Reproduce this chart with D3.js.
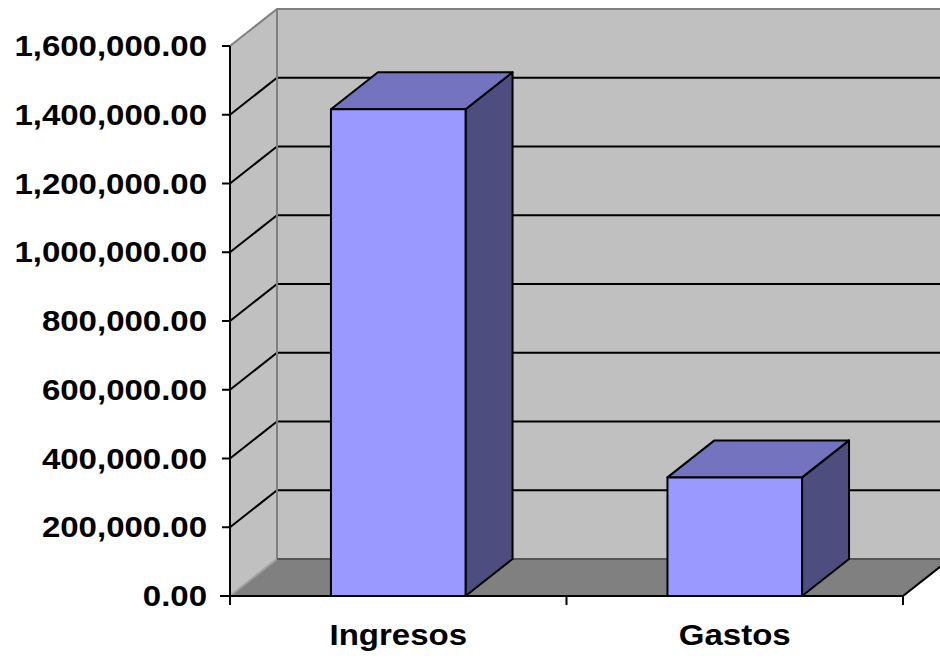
<!DOCTYPE html>
<html>
<head>
<meta charset="utf-8">
<script src="https://cdn.jsdelivr.net/npm/d3@7/dist/d3.min.js"></script>
<style>
  html, body { margin: 0; padding: 0; background: #ffffff; }
  svg { display: block; }
  text { font-family: "Liberation Sans", Arial, sans-serif; font-weight: bold; fill: #000; }
</style>
</head>
<body>
<svg id="chart" width="940" height="660"></svg>
<script>
// Data
const categories = ["Ingresos", "Gastos"];
const values = [1416000, 345000];
const yTicks = [0, 200000, 400000, 600000, 800000, 1000000, 1200000, 1400000, 1600000];

const W = 940, H = 660;
const plot = { left: 230, right: 903, top: 46, bottom: 596 };
const depth = { dx: 47, dy: -37 };   // 3D offset of the back plane
const fontPx = 30, stretch = 1.1;

const svg = d3.select("#chart");

const y = d3.scaleLinear().domain([0, 1600000]).range([plot.bottom, plot.top]);
const x = d3.scaleBand().domain(categories).range([plot.left, plot.right])
  .paddingInner(0.6).paddingOuter(0.3);
const xCat = d3.scaleBand().domain(categories).range([plot.left, plot.right]).padding(0);

const pts = a => a.map(p => p.join(",")).join(" ");
const yTop = y(1600000), y0 = y(0);
const bx = plot.left + depth.dx;           // back wall left edge
const rightEnd = plot.right + depth.dx;    // back wall right edge

// Side wall (left)
svg.append("polygon")
  .attr("points", pts([[plot.left, y0], [plot.left, yTop], [bx, yTop + depth.dy], [bx, y0 + depth.dy]]))
  .attr("fill", "#c0c0c0");

// Back wall
svg.append("rect")
  .attr("x", bx).attr("y", yTop + depth.dy)
  .attr("width", rightEnd - bx).attr("height", y0 - yTop)
  .attr("fill", "#c0c0c0");

// Floor
svg.append("polygon")
  .attr("points", pts([[plot.left, y0], [bx, y0 + depth.dy], [rightEnd, y0 + depth.dy], [plot.right, y0]]))
  .attr("fill", "#808080");

// Gridlines on side and back walls
const inner = yTicks.filter(v => v > 0 && v < 1600000);
svg.append("g").selectAll("path").data(inner).join("path")
  .attr("d", v => `M${plot.left},${y(v)}L${bx},${y(v) + depth.dy}L${rightEnd},${y(v) + depth.dy}`)
  .attr("fill", "none").attr("stroke", "#000").attr("stroke-width", 2);

// Wall edges
const edges = svg.append("g").attr("fill", "none").attr("stroke", "#808080").attr("stroke-width", 2);
edges.append("path").attr("d", `M${plot.left},${yTop}L${bx},${yTop + depth.dy}L${rightEnd},${yTop + depth.dy}`);
edges.append("path").attr("d", `M${bx},${yTop + depth.dy}L${bx},${y0 + depth.dy}`);
edges.append("path").attr("d", `M${plot.left},${y0}L${bx},${y0 + depth.dy}`).attr("stroke", "#a0a0a0");
edges.append("path").attr("d", `M${bx},${y0 + depth.dy}L${rightEnd},${y0 + depth.dy}`).attr("stroke", "#555555");
edges.append("path").attr("d", `M${plot.right},${y0}L${rightEnd},${y0 + depth.dy}`).attr("stroke", "#000");

// Bars
const bars = svg.append("g").attr("stroke", "#000").attr("stroke-width", 2).attr("stroke-linejoin", "round");
categories.forEach((c, i) => {
  const x0 = x(c), x1 = x(c) + x.bandwidth(), yv = y(values[i]);
  bars.append("polygon")
    .attr("points", pts([[x1, yv], [x1 + depth.dx, yv + depth.dy], [x1 + depth.dx, y0 + depth.dy], [x1, y0]]))
    .attr("fill", "#4d4d80");
  bars.append("polygon")
    .attr("points", pts([[x0, yv], [x0 + depth.dx, yv + depth.dy], [x1 + depth.dx, yv + depth.dy], [x1, yv]]))
    .attr("fill", "#7373bf");
  bars.append("rect")
    .attr("x", x0).attr("y", yv).attr("width", x1 - x0).attr("height", y0 - yv)
    .attr("fill", "#9999ff");
});

// Axes
const ax = svg.append("g").attr("stroke", "#000").attr("stroke-width", 2).attr("fill", "none");
ax.append("path").attr("d", `M${plot.left},${yTop}L${plot.left},${y0 + 9}`);
ax.append("path").attr("d", `M${plot.left - 10},${y0}L${plot.right},${y0}`);
ax.selectAll(".yt").data(yTicks.slice(1)).join("path")
  .attr("d", v => `M${plot.left - 8},${y(v)}L${plot.left},${y(v)}`);
const catBounds = categories.map(c => xCat(c) + xCat.bandwidth());
ax.selectAll(".xt").data(catBounds).join("path")
  .attr("d", b => `M${b},${y0}L${b},${y0 + 9}`);

// Tick labels
const fmt = d3.format(",.2f");
svg.append("g").selectAll("text").data(yTicks).join("text")
  .attr("transform", v => `translate(${plot.left - 23},${y(v) + 10}) scale(${stretch},1)`)
  .attr("text-anchor", "end")
  .attr("font-size", fontPx)
  .text(v => fmt(v));

svg.append("g").selectAll("text").data(categories).join("text")
  .attr("transform", c => `translate(${xCat(c) + xCat.bandwidth() / 2},645) scale(${stretch},1)`)
  .attr("text-anchor", "middle")
  .attr("font-size", fontPx)
  .text(c => c);
</script>
</body>
</html>
